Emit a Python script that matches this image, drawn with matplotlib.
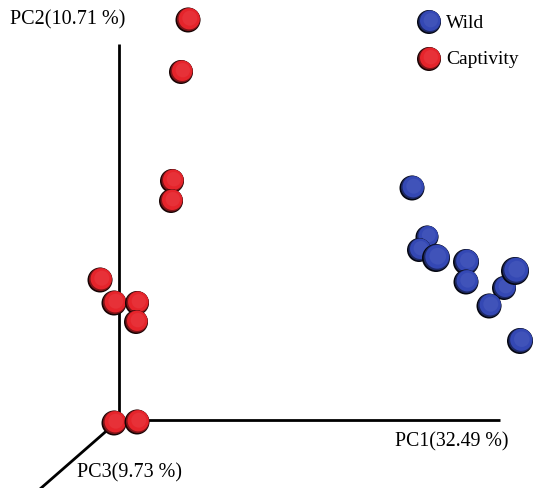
"""
pcoa_3d_plot.py

PCoA of gut microbiota, wild vs captivity, drawn as a flat 3D-style projection.
"""

import numpy as np
import matplotlib.pyplot as plt
from matplotlib.patches import Circle
from matplotlib.colors import to_rgb

plt.rcParams["font.family"] = ["Liberation Serif", "DejaVu Serif"]

# projected sample positions (screen x, screen y) and sphere radius
wild_x = [412, 427, 419, 436, 466, 466, 504, 515, 489, 520]
wild_y = [189, 238, 251, 259, 263, 283, 289, 272, 307, 342]
wild_r = [12.5, 11.5, 12, 14, 13, 12.5, 12, 14, 12.5, 13]

captivity_x = [188, 181, 172, 171, 100, 114, 137, 136, 114, 137]
captivity_y = [21, 73, 182, 202, 281, 304, 304, 323, 424, 423]
captivity_r = [12.5, 12, 12, 12, 12.5, 12.5, 12, 12, 12.5, 12.5]

axis_labels = ["PC1(32.49 %)", "PC2(10.71 %)", "PC3(9.73 %)"]
groups = ["Wild", "Captivity"]
group_colors = {"Wild": "#3448b4", "Captivity": "#e5242b"}


def shade(color, f):
    """Blend colour towards black (f<0) or white (f>0)."""
    c = np.array(to_rgb(color))
    if f < 0:
        return tuple(c * (1 + f))
    return tuple(c + (1 - c) * f)


def draw_sphere(ax, x, y, r, color, z=3):
    """Flat-shaded sphere: dark rim at lower left, light from upper right."""
    ax.add_patch(Circle((x, y), r, color=shade(color, -0.9), zorder=z, lw=0))
    ax.add_patch(Circle((x + 0.6, y - 0.6), r * 0.93, color=shade(color, -0.45), zorder=z, lw=0))
    ax.add_patch(Circle((x + 1.2, y - 1.2), r * 0.85, color=color, zorder=z, lw=0))
    ax.add_patch(Circle((x + 1.8, y - 1.8), r * 0.6, color=shade(color, 0.06), zorder=z, lw=0))


fig = plt.figure(figsize=(5.33, 4.89), dpi=100)
ax = fig.add_axes([0, 0, 1, 1])
ax.set_xlim(0, 533)
ax.set_ylim(489, 0)
ax.set_aspect("equal")
ax.axis("off")

# axes of the projection
ox, oy = 119, 421
ax.plot([ox, ox], [45, oy], color="black", lw=2.0, zorder=1, solid_capstyle="butt")
ax.plot([ox, 500], [oy, oy], color="black", lw=2.0, zorder=1, solid_capstyle="butt")
ax.plot([ox, 40], [oy, 490], color="black", lw=2.0, zorder=1, solid_capstyle="butt")

z = 3
for x, y, r in zip(captivity_x, captivity_y, captivity_r):
    draw_sphere(ax, x, y, r, group_colors["Captivity"], z)
    z += 1
for x, y, r in zip(wild_x, wild_y, wild_r):
    draw_sphere(ax, x, y, r, group_colors["Wild"], z)
    z += 1

ax.text(395, 442, axis_labels[0], fontsize=14.3, va="center", ha="left")
ax.text(10, 20, axis_labels[1], fontsize=14.5, va="center", ha="left")
ax.text(77, 473, axis_labels[2], fontsize=14.5, va="center", ha="left")

# legend
for i, g in enumerate(groups):
    ly = 23 + i * 37
    draw_sphere(ax, 429, ly, 12, group_colors[g], z)
    z += 1
    ax.text(446, ly, g, fontsize=14, va="center", ha="left")

fig.savefig("out.png", dpi=100)
